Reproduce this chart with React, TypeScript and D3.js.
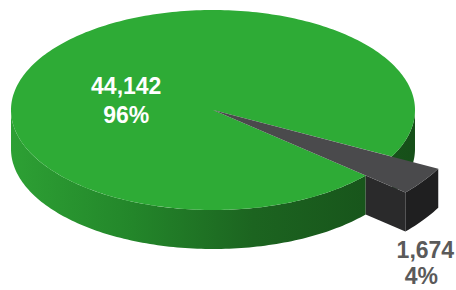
import * as d3 from "d3";

// chart data
const categories = ["main", "other"];
const values = [44142, 1674];
const percentLabels = ["96%", "4%"];
const colors = {
  top: ["#2eab36", "#4a4a4c"],
  side: ["#1e6a23", "#1f1f20"],
  face: "#2a2a2b",
};

const W = 456;
const H = 290;
const cx = 213;
const cy = 110;
const rx = 202;
const ry = 100;
const depth = 39;
const wedgeR = 1.26; // pulled-out slice radius, relative to pie
const startDeg = -229.1;

const pt = (r: number, a: number, dy = 0): [number, number] => [
  cx + r * rx * Math.sin(a),
  cy - r * ry * Math.cos(a) + dy,
];

const arcPts = (r: number, a0: number, a1: number, dy = 0) => {
  const n = Math.max(2, Math.ceil(Math.abs(a1 - a0) / 0.02));
  return d3.range(n + 1).map((i) => pt(r, a0 + ((a1 - a0) * i) / n, dy));
};

const line = d3.line();

function topPath(r: number, a0: number, a1: number) {
  return line([[cx, cy], ...arcPts(r, a0, a1)]) + "Z";
}

// outer wall between a0 and a1, only the part facing us
function sidePath(r: number, a0: number, a1: number) {
  const out: string[] = [];
  const tau = Math.PI * 2;
  for (let k = -2; k <= 2; k++) {
    const f0 = Math.PI / 2 + k * tau;
    const f1 = (Math.PI * 3) / 2 + k * tau;
    const s = Math.max(a0, f0);
    const e = Math.min(a1, f1);
    if (e > s) {
      const top = arcPts(r, s, e);
      const bot = arcPts(r, s, e, depth).reverse();
      out.push(line([...top, ...bot]) + "Z");
    }
  }
  return out;
}

export default function App() {
  const start = (startDeg * Math.PI) / 180;
  const arcs = d3
    .pie<number>()
    .sort(null)
    .startAngle(start)
    .endAngle(start + Math.PI * 2)(values);

  const g = arcs[0];
  const w = arcs[1];

  // radial wall of the pulled slice, outside the pie
  const a1 = w.endAngle;
  const radial = line([
    pt(1, a1),
    pt(wedgeR, a1),
    pt(wedgeR, a1, depth),
    pt(1, a1, depth),
  ]) + "Z";

  const gMid = (g.startAngle + g.endAngle) / 2;
  const gLab = pt(0.52, gMid);
  const wLab = pt(wedgeR, a1, depth);

  const fmt = d3.format(",");

  return (
    <svg
      width={W}
      height={H}
      style={{ position: "absolute", left: 0, top: 0, background: "#fff" }}
      fontFamily="'Liberation Sans', Arial, sans-serif"
      fontWeight="bold"
    >
      <defs>
        <linearGradient id="sideGrad" gradientUnits="userSpaceOnUse" x1={cx - rx} x2={cx + rx} y1={0} y2={0}>
          <stop offset="0" stopColor="#2da034" />
          <stop offset="0.3" stopColor="#23862a" />
          <stop offset="0.6" stopColor="#1c6420" />
          <stop offset="1" stopColor="#164f19" />
        </linearGradient>
      </defs>
      {sidePath(1, g.startAngle, g.endAngle).map((d, i) => (
        <path key={"gs" + i} d={d} fill="url(#sideGrad)" />
      ))}
      <path d={topPath(1, g.startAngle, g.endAngle)} fill={colors.top[0]} />
      <path d={radial} fill={colors.face} />
      {sidePath(wedgeR, w.startAngle, w.endAngle).map((d, i) => (
        <path key={"ws" + i} d={d} fill={colors.side[1]} />
      ))}
      <path d={topPath(wedgeR, w.startAngle, w.endAngle)} fill={colors.top[1]} />

      <g fontSize={23} textAnchor="middle" data-cat={categories[0]}>
        <text x={gLab[0]} y={gLab[1] + 13} fill="#fff">{fmt(values[0])}</text>
        <text x={gLab[0]} y={gLab[1] + 42} fill="#fff">{percentLabels[0]}</text>
      </g>
      <g fontSize={23} textAnchor="middle" data-cat={categories[1]}>
        <text x={wLab[0] + 20} y={wLab[1] + 27} fill="#5a5a5a">{fmt(values[1])}</text>
        <text x={wLab[0] + 16} y={wLab[1] + 53} fill="#5a5a5a">{percentLabels[1]}</text>
      </g>
    </svg>
  );
}
